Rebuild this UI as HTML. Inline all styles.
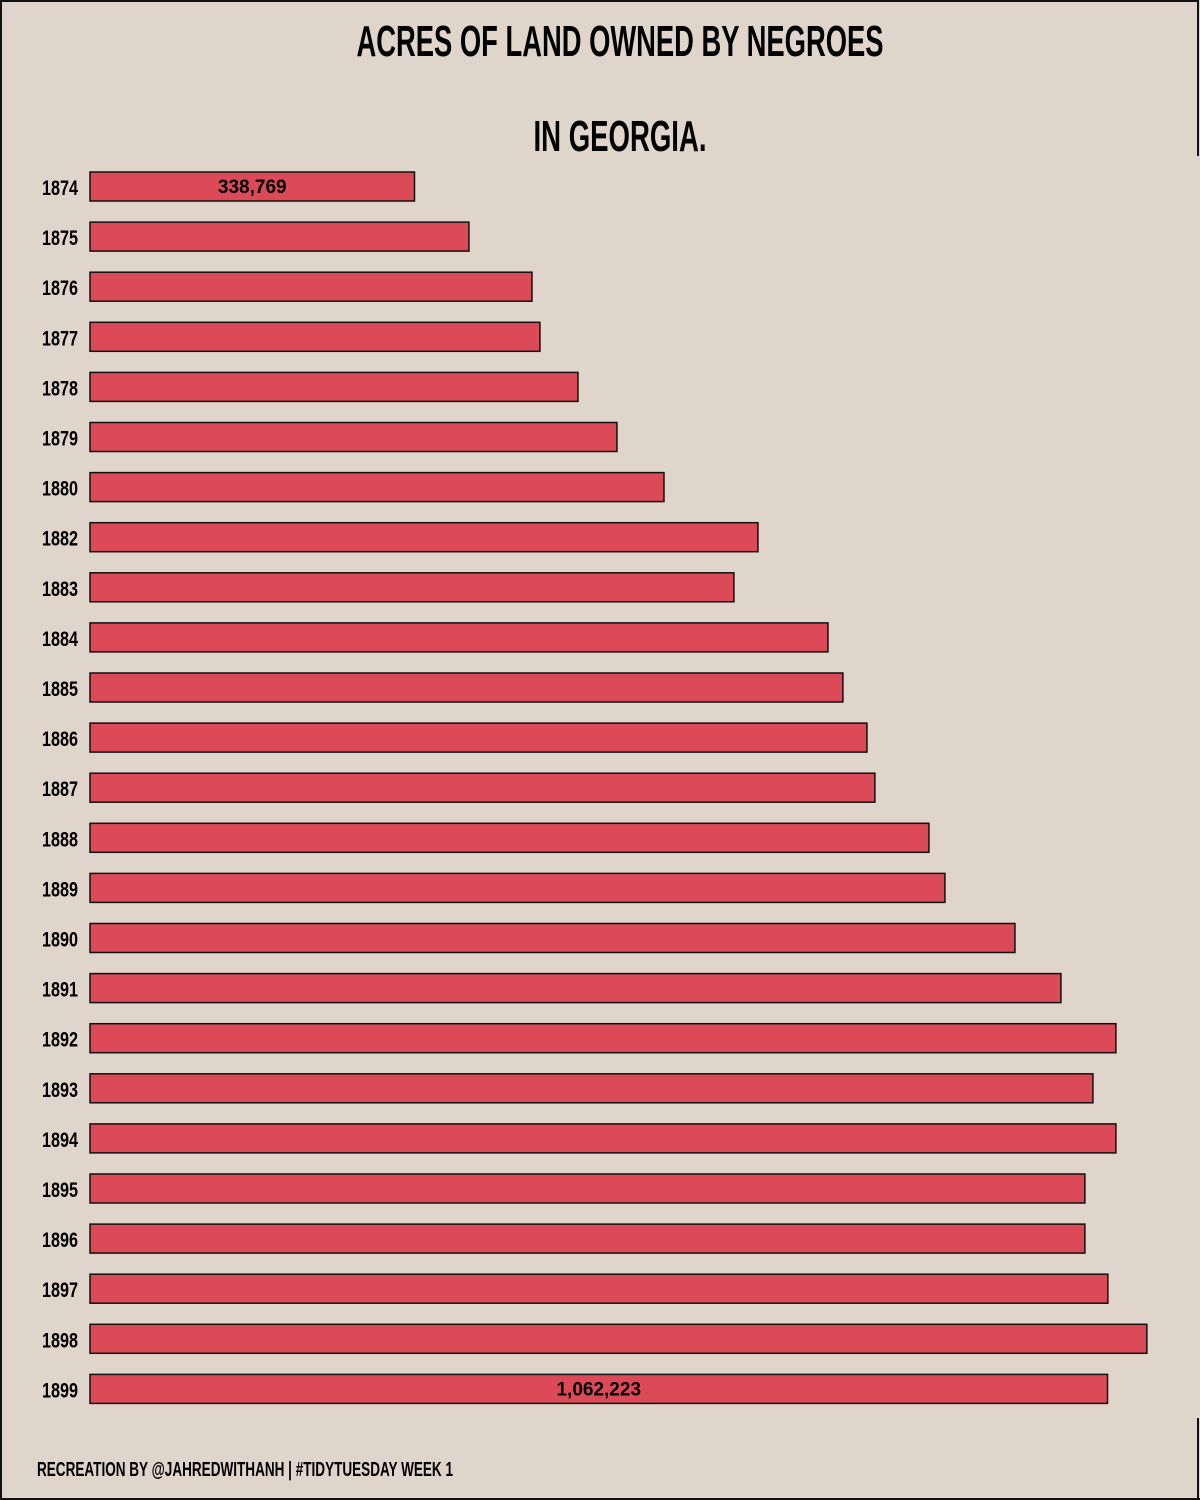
<!DOCTYPE html>
<html><head><meta charset="utf-8"><style>
html,body{margin:0;padding:0;background:#e0d5ca;}
svg{display:block;}
</style></head><body>
<svg id="chart" width="1200" height="1500" xmlns="http://www.w3.org/2000/svg">
<rect x="0" y="0" width="1200" height="1500" fill="#e0d5ca"/>
<path d="M1,1500 V1 H1198 V156 M1198,1418 V1500 M0,1499 H1200" stroke="#111" stroke-width="2" fill="none"/>
<text x="620" y="56" text-anchor="middle" font-family="Liberation Sans Narrow, Liberation Sans, sans-serif" font-weight="bold" font-size="44" textLength="527" lengthAdjust="spacingAndGlyphs" fill="#000">ACRES OF LAND OWNED BY NEGROES</text>
<text x="620" y="151" text-anchor="middle" font-family="Liberation Sans Narrow, Liberation Sans, sans-serif" font-weight="bold" font-size="44" textLength="173" lengthAdjust="spacingAndGlyphs" fill="#000">IN GEORGIA.</text>
<text x="37" y="1476" font-family="Liberation Sans Narrow, Liberation Sans, sans-serif" font-weight="bold" font-size="20" textLength="416" lengthAdjust="spacingAndGlyphs" fill="#000">RECREATION BY @JAHREDWITHANH | #TIDYTUESDAY WEEK 1</text>
<g id="bars"></g>
</svg>
<script>
const years = ["1874","1875","1876","1877","1878","1879","1880","1882","1883","1884","1885","1886","1887","1888","1889","1890","1891","1892","1893","1894","1895","1896","1897","1898","1899"];
const acres = [338769,395600,461400,469700,509400,550100,599200,697300,672200,770400,786000,811100,819400,875800,892500,965600,1013600,1071000,1047000,1071000,1038600,1038600,1062600,1103300,1062223];
const labeledYears = ["1874","1899"];
const x0 = 90, xScale = (1108 - 415) / (1062223 - 338769);
const xOf = v => x0 + v * xScale;
const rowTop = 172, rowStep = 50.1, barH = 29;
const yOf = i => rowTop + i * rowStep;
const NS = "http://www.w3.org/2000/svg";
const g = document.getElementById("bars");
years.forEach((yr, i) => {
  const y = yOf(i);
  const r = document.createElementNS(NS, "rect");
  r.setAttribute("x", x0); r.setAttribute("y", y);
  r.setAttribute("width", xOf(acres[i]) - x0); r.setAttribute("height", barH);
  r.setAttribute("fill", "#dc4a58"); r.setAttribute("stroke", "#111"); r.setAttribute("stroke-width", "1.5");
  
  
  g.appendChild(r);
  const t = document.createElementNS(NS, "text");
  t.setAttribute("x", 78); t.setAttribute("y", y + 23);
  t.setAttribute("text-anchor", "end");
  t.setAttribute("font-family", "Liberation Sans Narrow, Liberation Sans, sans-serif");
  t.setAttribute("font-weight", "bold"); t.setAttribute("font-size", "21");
  t.setAttribute("textLength", "36"); t.setAttribute("lengthAdjust", "spacingAndGlyphs");
  t.textContent = yr;
  
  
  g.appendChild(t);
  if (labeledYears.includes(yr)) {
    const v = document.createElementNS(NS, "text");
    v.setAttribute("x", (x0 + xOf(acres[i])) / 2); v.setAttribute("y", y + 21);
    v.setAttribute("text-anchor", "middle");
    v.setAttribute("font-family", "Liberation Sans, sans-serif");
    v.setAttribute("font-weight", "bold"); v.setAttribute("font-size", "19");
    v.textContent = acres[i].toLocaleString("en-US");
    
    
    g.appendChild(v);
  }
});
</script>
</body></html>
